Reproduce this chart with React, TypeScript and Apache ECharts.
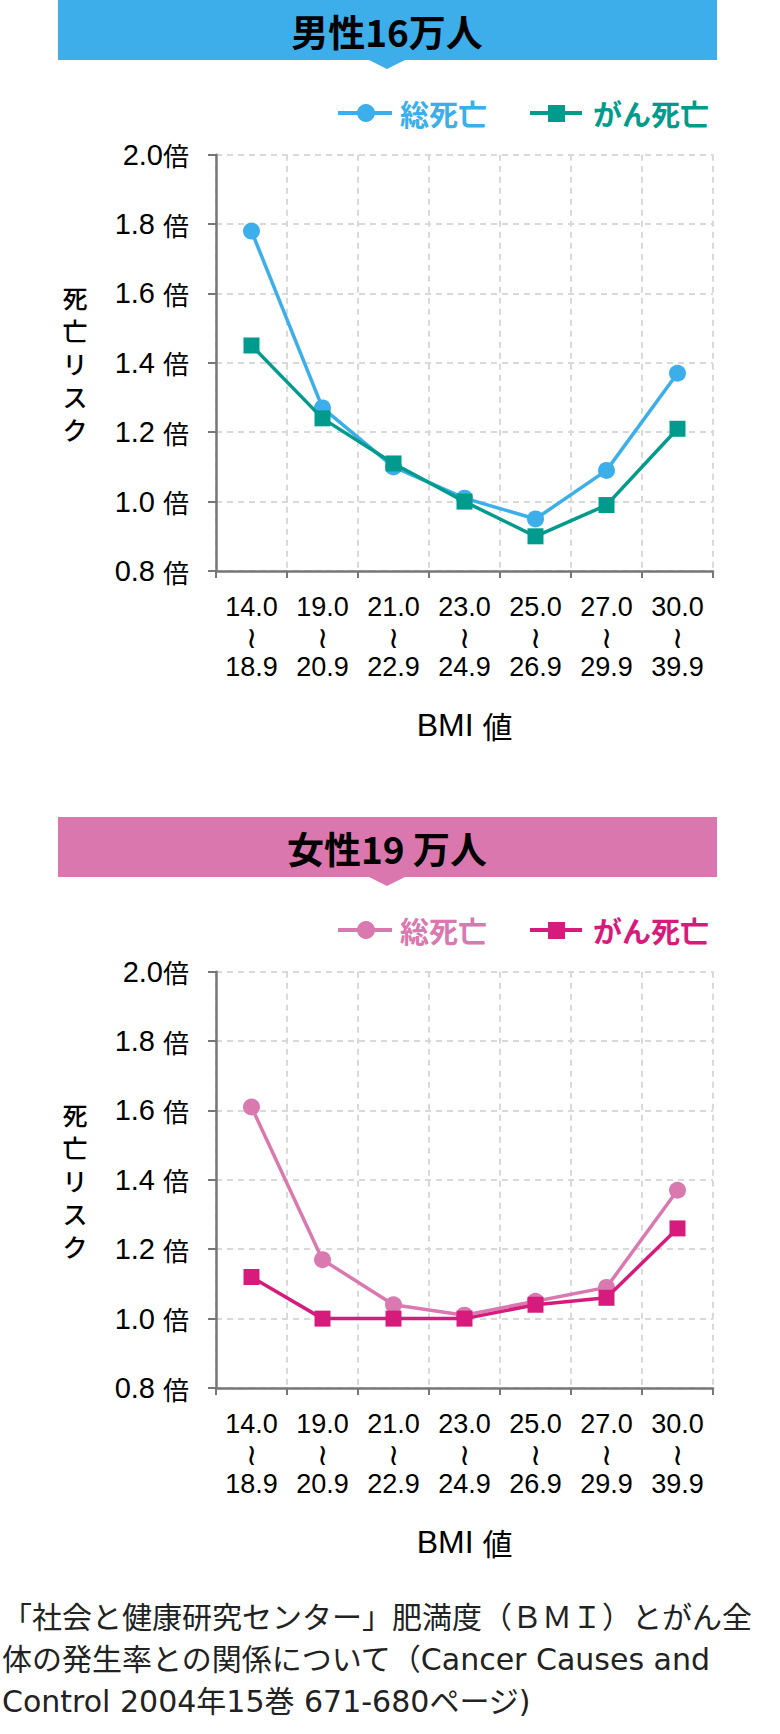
import React, { useEffect, useRef } from "react";
import * as echarts from "echarts";

// ---- data ----
const catLow = ["14.0", "19.0", "21.0", "23.0", "25.0", "27.0", "30.0"];
const catHigh = ["18.9", "20.9", "22.9", "24.9", "26.9", "29.9", "39.9"];
const categories = catLow.map((l, i) => `${l}〜${catHigh[i]}`);
const yTickLabels = ["0.8 倍", "1.0 倍", "1.2 倍", "1.4 倍", "1.6 倍", "1.8 倍", "2.0倍"];
const seriesNames = ["総死亡", "がん死亡"];
const menTotal = [1.78, 1.27, 1.1, 1.01, 0.95, 1.09, 1.37];
const menCancer = [1.45, 1.24, 1.11, 1.0, 0.9, 0.99, 1.21];
const womenTotal = [1.61, 1.17, 1.04, 1.01, 1.05, 1.09, 1.37];
const womenCancer = [1.12, 1.0, 1.0, 1.0, 1.04, 1.06, 1.26];
const panelTitles = ["男性16万人", "女性19 万人"];
const yAxisName = "死亡リスク";
const xAxisName = ["BMI", "値"];
const footerLines = [
  "「社会と健康研究センター」肥満度（ＢＭＩ）とがん全",
  "体の発生率との関係について（Cancer Causes and",
  "Control 2004年15巻 671-680ページ)",
];

// ---- styles ----
const CJK = "'Noto Sans CJK JP', 'Noto Sans', sans-serif";
const NUM = "'Liberation Sans', Arial, 'Noto Sans CJK JP', sans-serif";
const FOOT = "'DejaVu Sans', 'Noto Sans CJK JP', sans-serif";
const panels = [
  { offset: 0, banner: "#3daeea", total: "#3cafea", cancer: "#009b8c" },
  { offset: 817, banner: "#da77ae", total: "#da78b0", cancer: "#d61b7c" },
];

function buildOption() {
  const grids: any[] = [];
  const xAxes: any[] = [];
  const yAxes: any[] = [];
  const series: any[] = [];
  const graphic: any[] = [];
  const data = [
    [menTotal, menCancer],
    [womenTotal, womenCancer],
  ];

  panels.forEach((p, k) => {
    const o = p.offset;
    grids.push({ left: 216, top: 154.7 + o, width: 497, height: 416.3 });
    xAxes.push({
      type: "category",
      gridIndex: k,
      data: categories,
      boundaryGap: true,
      axisLine: { lineStyle: { color: "#777", width: 2.5 } },
      axisTick: { show: true, length: 7, lineStyle: { color: "#777", width: 2 } },
      splitLine: { show: true, lineStyle: { color: "#d9d9d9", width: 2, type: [6, 5] } },
      axisLabel: {
        margin: 21,
        formatter: (_v: string, i: number) => `{n|${catLow[i]}}\n{w|≀}\n{n|${catHigh[i]}}`,
        rich: {
          n: { fontFamily: NUM, fontSize: 27, lineHeight: 30, color: "#000" },
          w: { fontFamily: "'DejaVu Sans', sans-serif", fontSize: 30, lineHeight: 30, color: "#000" },
        },
      },
      name: `{n|${xAxisName[0]} }{b|${xAxisName[1]}}`,
      nameLocation: "middle",
      nameGap: 154,
      nameTextStyle: {
        verticalAlign: "middle",
        rich: {
          n: { fontFamily: NUM, fontSize: 32, color: "#000" },
          b: { fontFamily: CJK, fontSize: 30, color: "#000" },
        },
      },
    });
    yAxes.push({
      type: "value",
      gridIndex: k,
      min: 0.8,
      max: 2.0,
      interval: 0.2,
      axisLine: { show: true, lineStyle: { color: "#777", width: 2.5 } },
      axisTick: { show: true, length: 8, lineStyle: { color: "#777", width: 2 } },
      splitLine: { show: true, lineStyle: { color: "#d9d9d9", width: 2, type: [6, 5] } },
      axisLabel: {
        margin: 27,
        formatter: (_v: number, i: number) => {
          const s = yTickLabels[i] || "";
          const m = s.match(/^([\d.]+)(\s?)倍$/);
          if (!m) return s;
          return `{n|${m[1]}${m[2] ? " " : ""}}{b|倍}`;
        },
        rich: {
          n: { fontFamily: NUM, fontSize: 29, color: "#000" },
          b: { fontFamily: CJK, fontSize: 26, color: "#000" },
        },
      },
      name: yAxisName.split("").join("\n"),
      nameLocation: "middle",
      nameGap: 141,
      nameRotate: 0,
      nameTextStyle: {
        fontFamily: CJK,
        fontSize: 25,
        fontWeight: 500,
        lineHeight: 33,
        color: "#000",
        align: "center",
        verticalAlign: "middle",
      },
    });

    const colors = [p.total, p.cancer];
    const symbols = ["circle", "rect"];
    const sizes = [17, 16];
    data[k].forEach((arr, j) => {
      series.push({
        type: "line",
        name: seriesNames[j],
        xAxisIndex: k,
        yAxisIndex: k,
        data: arr,
        symbol: symbols[j],
        symbolSize: sizes[j],
        showAllSymbol: true,
        lineStyle: { color: colors[j], width: 3.5 },
        itemStyle: { color: colors[j] },
        z: 3 + j,
      });
    });

    // banner
    graphic.push({
      type: "rect",
      shape: { x: 58, y: o, width: 659, height: 60 },
      style: { fill: p.banner },
    });
    graphic.push({
      type: "polygon",
      shape: { points: [[368, 59.5 + o], [406, 59.5 + o], [387, 69 + o]] },
      style: { fill: p.banner },
    });
    graphic.push({
      type: "text",
      x: 387,
      y: 31 + o,
      style: {
        text: panelTitles[k],
        fill: "#000",
        font: `bold 37px ${CJK}`,
        align: "center",
        verticalAlign: "middle",
      },
    });
    // legend
    const ly = 113 + o;
    graphic.push({ type: "line", shape: { x1: 338, y1: ly, x2: 392, y2: ly }, style: { stroke: p.total, lineWidth: 4 } });
    graphic.push({ type: "circle", shape: { cx: 366, cy: ly, r: 9 }, style: { fill: p.total } });
    graphic.push({
      type: "text",
      x: 400,
      y: ly,
      style: { text: seriesNames[0], fill: p.total, font: `bold 29px ${CJK}`, verticalAlign: "middle", align: "left" },
    });
    graphic.push({ type: "line", shape: { x1: 530, y1: ly, x2: 582, y2: ly }, style: { stroke: p.cancer, lineWidth: 4 } });
    graphic.push({ type: "rect", shape: { x: 548, y: ly - 8, width: 17, height: 17 }, style: { fill: p.cancer } });
    graphic.push({
      type: "text",
      x: 593,
      y: ly,
      style: { text: seriesNames[1], fill: p.cancer, font: `bold 29px ${CJK}`, verticalAlign: "middle", align: "left" },
    });
  });

  footerLines.forEach((t, i) => {
    graphic.push({
      type: "text",
      x: 2,
      y: 1617 + i * 42,
      style: { text: t, fill: "#222", font: `30px ${FOOT}`, verticalAlign: "middle", align: "left" },
    });
  });

  return {
    animation: false,
    backgroundColor: "#fff",
    grid: grids,
    xAxis: xAxes,
    yAxis: yAxes,
    series,
    graphic,
  };
}

export default function App() {
  const ref = useRef<HTMLDivElement>(null);
  useEffect(() => {
    document.body.style.margin = "0";
    if (!ref.current) return;
    const chart = echarts.init(ref.current, undefined, { renderer: "svg" });
    chart.setOption(buildOption() as any);
    return () => chart.dispose();
  }, []);
  return <div ref={ref} style={{ width: 780, height: 1734 }} />;
}
